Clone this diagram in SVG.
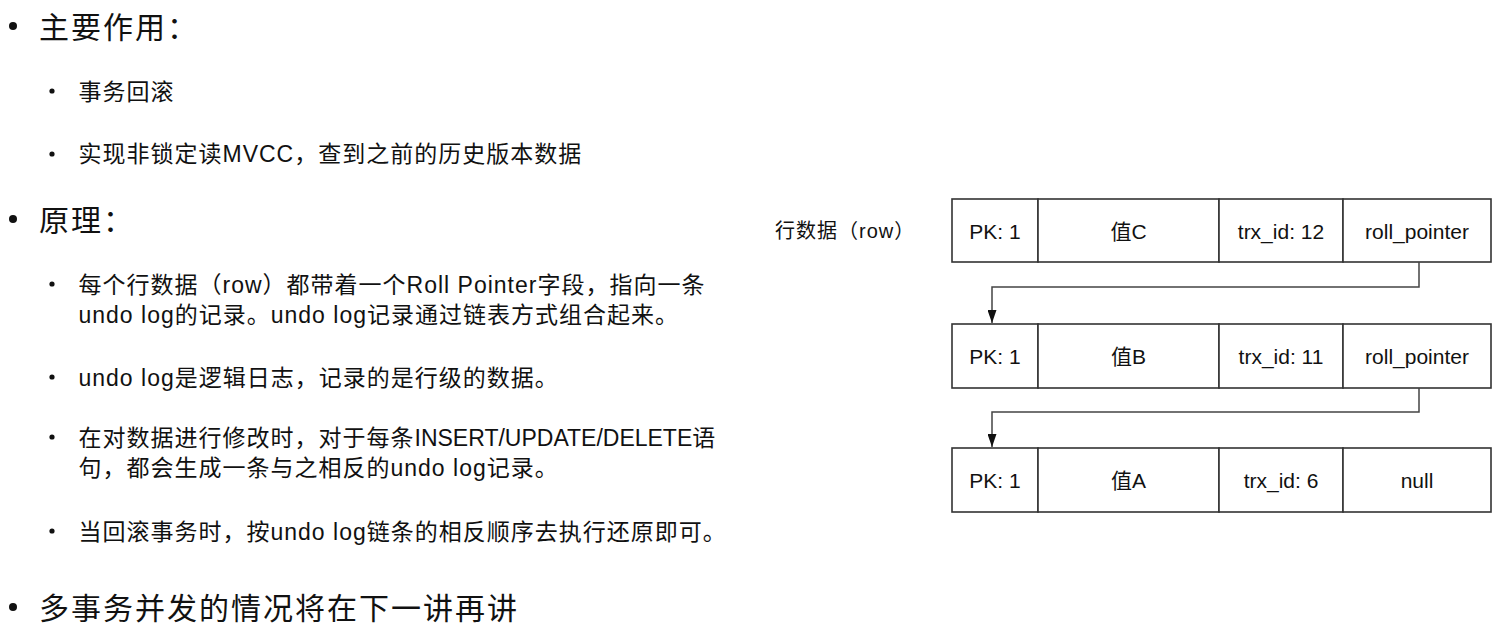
<svg xmlns="http://www.w3.org/2000/svg" width="1509" height="643" viewBox="0 0 1509 643">
  <defs>
    <style>
      .t1 { font-family: "Liberation Sans", "Noto Sans CJK SC", sans-serif; font-size: 30px; letter-spacing: 2px; fill: #111; }
      .t2 { font-family: "Liberation Sans", "Noto Sans CJK SC", sans-serif; font-size: 23px; letter-spacing: 1px; fill: #111; }
      .nl { letter-spacing: 0px; }
      .cell { fill: #fff; stroke: #333; stroke-width: 1.6; }
      .ct { font-family: "Liberation Sans", "Noto Sans CJK SC", sans-serif; font-size: 21px; fill: #111; text-anchor: middle; }
      .lbl { font-family: "Liberation Sans", "Noto Sans CJK SC", sans-serif; font-size: 20px; letter-spacing: 1px; fill: #111; }
      .conn { fill: none; stroke: #444; stroke-width: 1.5; }
      .b1 { fill: #111; }
    </style>
    <marker id="arrow" viewBox="0 0 13 9" refX="13" refY="4.5" markerWidth="13" markerHeight="9" markerUnits="userSpaceOnUse" orient="auto">
      <path d="M0,0 L13,4.5 L0,9 z" fill="#111"/>
    </marker>
  </defs>
  <rect width="1509" height="643" fill="#fff"/>

  <g id="text-main">
    <circle class="b1" cx="13" cy="26" r="4"/>
    <text class="t1" x="39" y="38">主要作用：</text>

    <circle class="b1" cx="52" cy="91" r="2.6"/>
    <text class="t2" x="78.5" y="100">事务回滚</text>

    <circle class="b1" cx="52" cy="154" r="2.6"/>
    <text class="t2" x="78.5" y="162">实现非锁定读MVCC，查到之前的历史版本数据</text>

    <circle class="b1" cx="13" cy="219" r="4"/>
    <text class="t1" x="39" y="231">原理：</text>

    <circle class="b1" cx="52" cy="284" r="2.6"/>
    <text class="t2" x="78.5" y="293">每个行数据（row）都带着一个Roll Pointer字段，指向一条</text>
    <text class="t2" x="78.5" y="323">undo log的记录。undo log记录通过链表方式组合起来。</text>

    <circle class="b1" cx="52" cy="377" r="2.6"/>
    <text class="t2" x="78.5" y="386">undo log是逻辑日志，记录的是行级的数据。</text>

    <circle class="b1" cx="52" cy="437" r="2.6"/>
    <text class="t2" x="78.5" y="446">在对数据进行修改时，对于每条<tspan class="nl">INSERT/UPDATE/DELETE</tspan>语</text>
    <text class="t2" x="78.5" y="476">句，都会生成一条与之相反的undo log记录。</text>

    <circle class="b1" cx="52" cy="531" r="2.6"/>
    <text class="t2" x="78.5" y="540">当回滚事务时，按undo log链条的相反顺序去执行还原即可。</text>

    <circle class="b1" cx="13" cy="607" r="4"/>
    <text class="t1" x="39" y="619">多事务并发的情况将在下一讲再讲</text>
  </g>

  <g id="row-label">
    <text class="lbl" x="775" y="238">行数据（row）</text>
  </g>

  <g id="row-c">
    <rect class="cell" x="952" y="199" width="86" height="63"/>
    <rect class="cell" x="1038" y="199" width="181" height="63"/>
    <rect class="cell" x="1219" y="199" width="124" height="63"/>
    <rect class="cell" x="1343" y="199" width="148" height="63"/>
    <text class="ct" x="995" y="238.5">PK: 1</text>
    <text class="ct" x="1128.5" y="238.5">值C</text>
    <text class="ct" x="1281" y="238.5">trx_id: 12</text>
    <text class="ct" x="1417" y="238.5">roll_pointer</text>
  </g>

  <g id="row-b">
    <rect class="cell" x="952" y="324" width="86" height="64"/>
    <rect class="cell" x="1038" y="324" width="181" height="64"/>
    <rect class="cell" x="1219" y="324" width="124" height="64"/>
    <rect class="cell" x="1343" y="324" width="148" height="64"/>
    <text class="ct" x="995" y="364">PK: 1</text>
    <text class="ct" x="1128.5" y="364">值B</text>
    <text class="ct" x="1281" y="364">trx_id: 11</text>
    <text class="ct" x="1417" y="364">roll_pointer</text>
  </g>

  <g id="row-a">
    <rect class="cell" x="952" y="448" width="86" height="64"/>
    <rect class="cell" x="1038" y="448" width="181" height="64"/>
    <rect class="cell" x="1219" y="448" width="124" height="64"/>
    <rect class="cell" x="1343" y="448" width="148" height="64"/>
    <text class="ct" x="995" y="488">PK: 1</text>
    <text class="ct" x="1128.5" y="488">值A</text>
    <text class="ct" x="1281" y="488">trx_id: 6</text>
    <text class="ct" x="1417" y="488">null</text>
  </g>

  <g id="connectors">
    <path class="conn" d="M1419,262 V287 H992 V323" marker-end="url(#arrow)"/>
    <path class="conn" d="M1419,388 V412 H992 V447" marker-end="url(#arrow)"/>
  </g>
</svg>
